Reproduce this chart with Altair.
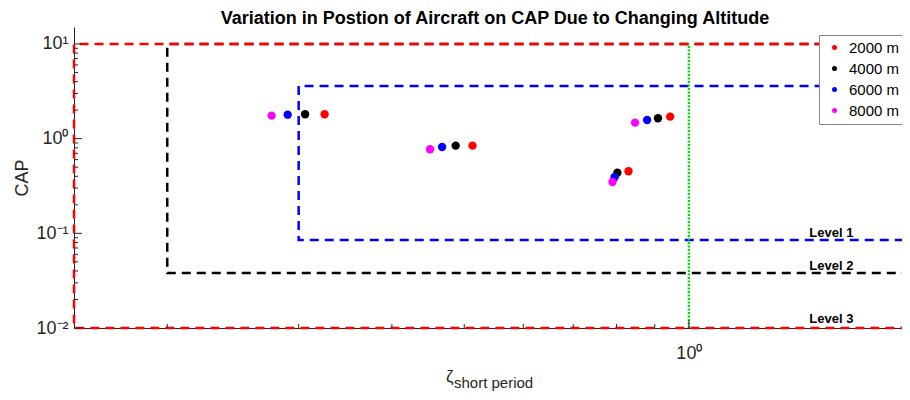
import altair as alt
import pandas as pd

# ---------------- data ----------------
altitudes = ["2000 m", "4000 m", "6000 m", "8000 m"]
alt_colors = ["#ff0000", "#000000", "#0000ff", "#ff00ff"]

# four flight conditions; values listed per altitude (2000, 4000, 6000, 8000 m)
zeta_c1 = [0.325, 0.306, 0.290, 0.276]
cap_c1 = [1.81, 1.81, 1.79, 1.75]
zeta_c2 = [0.513, 0.487, 0.467, 0.450]
cap_c2 = [0.843, 0.843, 0.817, 0.772]
zeta_c3 = [0.944, 0.909, 0.879, 0.847]
cap_c3 = [1.706, 1.641, 1.575, 1.475]
zeta_c4 = [0.830, 0.802, 0.795, 0.790]
cap_c4 = [0.452, 0.437, 0.391, 0.348]

levels = ["Level 1", "Level 2", "Level 3"]
level_colors = ["#0000ff", "#000000", "#ff0000"]
level_zeta_min = [0.3, 0.2, 0.15]
level_zeta_max = [2.0, 2.0, 2.0]
level_cap_min = [0.085, 0.038, 0.01]
level_cap_max = [3.6, 10.0, 10.0]
level_label_zeta = [1.45, 1.45, 1.45]
level_label_cap = [0.092, 0.041, 0.0112]

green_zeta = [1.0, 1.0]
green_cap = [0.01, 10.0]

title_text = "Variation in Postion of Aircraft on CAP Due to Changing Altitude"

x_domain = [0.15, 1.93]
y_domain = [0.01, 15.1]
x_tick_major = [1.0]
x_tick_minor = [0.2, 0.3, 0.4, 0.5, 0.6, 0.7, 0.8, 0.9]
y_tick_major = [0.01, 0.1, 1.0, 10.0]
y_tick_minor = [0.02, 0.03, 0.04, 0.05, 0.06, 0.07, 0.08, 0.09,
                0.2, 0.3, 0.4, 0.5, 0.6, 0.7, 0.8, 0.9,
                2, 3, 4, 5, 6, 7, 8, 9]

FONT = "Liberation Sans"
AX = "#262626"
W, H = 828, 301

# ---------------- tables ----------------
rows = []
for i, a in enumerate(altitudes):
    for zs, cs in [(zeta_c1, cap_c1), (zeta_c2, cap_c2), (zeta_c3, cap_c3), (zeta_c4, cap_c4)]:
        rows.append({"altitude": a, "zeta": zs[i], "cap": cs[i]})
pts = pd.DataFrame(rows)

brows = []
for i, lv in enumerate(levels):
    path = [(level_zeta_max[i], level_cap_max[i]), (level_zeta_min[i], level_cap_max[i]),
            (level_zeta_min[i], level_cap_min[i]), (level_zeta_max[i], level_cap_min[i])]
    for k, (z, c) in enumerate(path):
        brows.append({"level": lv, "ord": k, "zeta": z, "cap": c})
bounds = pd.DataFrame(brows)

labels = pd.DataFrame({"level": levels, "zeta": level_label_zeta, "cap": level_label_cap})
green = pd.DataFrame({"zeta": green_zeta, "cap": green_cap, "ord": [0, 1]})

xs = alt.Scale(type="log", domain=x_domain, nice=False)
ys = alt.Scale(type="log", domain=y_domain, nice=False)

x_axis = alt.Axis(title=None, values=[1], labelExpr="'10⁰'", ticks=False, grid=False,
                  domainColor=AX, labelColor=AX, labelFont=FONT, labelFontSize=18,
                  labelPadding=16, labelFlush=False)
y_axis = alt.Axis(title="CAP", values=y_tick_major,
                  labelExpr="'10' + (datum.value >= 5 ? '¹' : datum.value >= 0.5 ? '⁰' : datum.value >= 0.05 ? '⁻¹' : '⁻²')",
                  ticks=False, grid=False, domainColor=AX, labelColor=AX, labelFont=FONT,
                  labelFontSize=18, labelPadding=6, titleFont=FONT, titleFontSize=18,
                  titleFontWeight="normal", titleColor=AX, titlePadding=4, labelFlush=False)


def X(f="zeta"):
    return alt.X(f"{f}:Q", scale=xs, axis=x_axis)


def Y(f="cap"):
    return alt.Y(f"{f}:Q", scale=ys, axis=y_axis)


layers = []
for i, lv in enumerate(levels):
    layers.append(
        alt.Chart(bounds).transform_filter(alt.datum.level == lv)
        .mark_line(color=level_colors[i], strokeWidth=2.5, strokeDash=[9, 6])
        .encode(x=X(), y=Y(), order="ord:Q")
    )

layers.append(
    alt.Chart(green).mark_line(color="#00e000", strokeWidth=2.4, strokeDash=[2, 1.5])
    .encode(x=X(), y=Y(), order="ord:Q")
)

layers.append(
    alt.Chart(pts).mark_circle(size=70, opacity=1)
    .encode(
        x=X(), y=Y(),
        color=alt.Color("altitude:N", scale=alt.Scale(domain=altitudes, range=alt_colors),
                        legend=alt.Legend(title=None, orient="none", legendX=745, legendY=8,
                                          fillColor="white", strokeColor="#888888", padding=5,
                                          rowPadding=5, symbolSize=25, symbolType="circle",
                                          symbolOffset=3, labelOffset=7, labelFontSize=15,
                                          labelFont=FONT, labelColor="#000000")),
    )
)

layers.append(
    alt.Chart(labels).mark_text(font=FONT, fontSize=13, fontWeight="bold", align="left",
                                baseline="alphabetic", color="#000000")
    .encode(x=X(), y=Y(), text="level:N")
)

# inward axis ticks
layers.append(alt.Chart(pd.DataFrame({"v": y_tick_major})).mark_rule(color=AX, strokeWidth=1)
              .encode(y=Y("v"), x=alt.value(0), x2=alt.value(8)))
layers.append(alt.Chart(pd.DataFrame({"v": y_tick_minor})).mark_rule(color=AX, strokeWidth=1)
              .encode(y=Y("v"), x=alt.value(0), x2=alt.value(4)))
layers.append(alt.Chart(pd.DataFrame({"v": x_tick_major})).mark_rule(color=AX, strokeWidth=1)
              .encode(x=X("v"), y=alt.value(H), y2=alt.value(H - 8)))
layers.append(alt.Chart(pd.DataFrame({"v": x_tick_minor})).mark_rule(color=AX, strokeWidth=1)
              .encode(x=X("v"), y=alt.value(H), y2=alt.value(H - 4)))

# x-axis title: zeta with subscript
layers.append(alt.Chart(pd.DataFrame({"t": ["ζ"]})).mark_text(font=FONT, fontSize=17, align="left",
                                                              baseline="alphabetic", color=AX)
              .encode(text="t:N", x=alt.value(372), y=alt.value(355)))
layers.append(alt.Chart(pd.DataFrame({"t": ["short period"]})).mark_text(font=FONT, fontSize=15, align="left",
                                                                         baseline="alphabetic", color=AX)
              .encode(text="t:N", x=alt.value(380), y=alt.value(361)))

# chart title
layers.append(alt.Chart(pd.DataFrame({"t": [title_text]})).mark_text(font=FONT, fontSize=18, fontWeight="bold",
                                                                     align="center", baseline="alphabetic",
                                                                     color="#000000")
              .encode(text="t:N", x=alt.value(421), y=alt.value(-3)))

chart = alt.layer(*layers).properties(
    width=W, height=H,
    autosize=alt.AutoSizeParams(type="none"),
    padding={"left": 66, "top": 19, "right": 0, "bottom": 64},
).configure_view(stroke=None)

chart.save("out.html", embed_options={"renderer": "svg", "actions": False})
